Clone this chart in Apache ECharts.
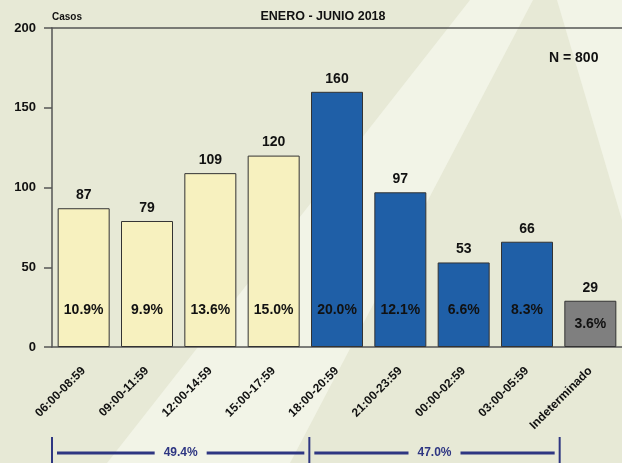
<!DOCTYPE html>
<html>
<head>
<meta charset="utf-8">
<script src="https://cdn.jsdelivr.net/npm/echarts@6/dist/echarts.min.js"></script>
<style>
  html, body { margin: 0; padding: 0; }
  #chart { width: 622px; height: 463px; }
</style>
</head>
<body>
<div id="chart"></div>
<script>
  // datos enero - junio 2018
  var categorias = ['06:00-08:59', '09:00-11:59', '12:00-14:59', '15:00-17:59',
    '18:00-20:59', '21:00-23:59', '00:00-02:59', '03:00-05:59', 'Indeterminado'];
  var casos = [87, 79, 109, 120, 160, 97, 53, 66, 29];
  var porcentajes = [10.9, 9.9, 13.6, 15.0, 20.0, 12.1, 6.6, 8.3, 3.6];
  var grupos = ['dia', 'dia', 'dia', 'dia', 'noche', 'noche', 'noche', 'noche', 'ind'];
  var yTicks = [0, 50, 100, 150, 200];
  var resumen = ['49.4%', '47.0%'];

  var colores = { dia: '#f7f1bf', noche: '#1f5fa7', ind: '#7f7f7f' };
  var fuente = '"Liberation Sans", Arial, sans-serif';
  var navy = '#2e3682';

  var chart = echarts.init(document.getElementById('chart'));

  var barData = casos.map(function (v, i) {
    return { value: v, itemStyle: { color: colores[grupos[i]] } };
  });
  var pctData = casos.map(function (v, i) {
    return {
      value: v,
      label: { distance: grupos[i] === 'ind' ? 16 : 30 }
    };
  });

  chart.setOption({
    backgroundColor: '#e7e9d6',
    textStyle: { fontFamily: fuente },
    title: {
      text: 'ENERO - JUNIO 2018',
      left: 318, top: 5, textAlign: 'center',
      textStyle: { fontSize: 12.5, fontWeight: 'bold', color: '#111', fontFamily: fuente }
    },
    grid: { left: 52, right: 0, top: 28, bottom: 116 },
    xAxis: [{
      type: 'category',
      data: categorias,
      axisLine: { lineStyle: { color: '#555', width: 1.5 } },
      axisTick: { alignWithLabel: true, length: 8, lineStyle: { color: '#222' } },
      axisLabel: { rotate: 45, margin: 22, fontSize: 12, fontWeight: 'bold', color: '#111', fontFamily: fuente }
    }, {
      type: 'category',
      position: 'top',
      data: categorias,
      axisLine: { lineStyle: { color: '#555', width: 1.5 } },
      axisTick: { show: false },
      axisLabel: { show: false }
    }],
    yAxis: {
      type: 'value',
      min: yTicks[0], max: yTicks[yTicks.length - 1], interval: 50,
      name: 'Casos',
      nameLocation: 'end',
      nameGap: 6,
      nameTextStyle: { fontSize: 10, fontWeight: 'bold', color: '#111', align: 'left', padding: [0, 0, 0, 0] },
      axisLine: { show: true, lineStyle: { color: '#555', width: 1.5 } },
      axisTick: { show: true, length: 8, lineStyle: { color: '#555', width: 1.5 } },
      axisLabel: { margin: 16, fontSize: 13, fontWeight: 'bold', color: '#111', fontFamily: fuente },
      splitLine: { show: false }
    },
    series: [{
      type: 'bar',
      data: barData,
      barWidth: 52,
      z: 3,
      itemStyle: { borderColor: '#333', borderWidth: 1 },
      label: {
        show: true, position: 'top', distance: 6,
        fontSize: 14, fontWeight: 'bold', color: '#111', fontFamily: fuente
      }
    }, {
      type: 'bar',
      data: pctData,
      barWidth: 52,
      barGap: '-100%',
      z: 4,
      itemStyle: { color: 'rgba(0,0,0,0)' },
      label: {
        show: true, position: 'insideBottom',
        fontSize: 14, fontWeight: 'bold', color: '#111', fontFamily: fuente,
        formatter: function (p) { return porcentajes[p.dataIndex].toFixed(1) + '%'; }
      },
      tooltip: { show: false }
    }],
    graphic: [
      { type: 'polygon', z: -10, silent: true,
        shape: { points: [[470, 0], [533, 0], [290, 463], [107, 463]] },
        style: { fill: '#f2f4e7' } },
      { type: 'polygon', z: -10, silent: true,
        shape: { points: [[557, 0], [622, 0], [622, 220]] },
        style: { fill: '#f2f4e7' } },
      { type: 'text', left: 549, top: 51,
        style: { text: 'N = 800', font: 'bold 14px ' + fuente, fill: '#111' } }
    ]
  });

  // corchetes de resumen debajo del eje
  var p0 = chart.convertToPixel({ xAxisIndex: 0 }, categorias[0]);
  var p1 = chart.convertToPixel({ xAxisIndex: 0 }, categorias[1]);
  var bw = p1 - p0;
  var xa = p0 - bw / 2;
  var xb = chart.convertToPixel({ xAxisIndex: 0 }, categorias[4]) - bw / 2 + 4;
  var xc = chart.convertToPixel({ xAxisIndex: 0 }, categorias[8]) - bw / 2 + 1;
  var yTop = 437, yLine = 453, yBot = 463;

  function corchete(x1, x2, txt) {
    var mid = (x1 + x2) / 2;
    var gap = 26;
    var ls = { stroke: navy, lineWidth: 3 };
    return [
      { type: 'line', shape: { x1: x1 + 5, y1: yLine, x2: mid - gap, y2: yLine }, style: ls },
      { type: 'line', shape: { x1: mid + gap, y1: yLine, x2: x2 - 5, y2: yLine }, style: ls },
      { type: 'text', x: mid, y: yLine,
        style: { text: txt, font: 'bold 12px ' + fuente, fill: navy, align: 'center', verticalAlign: 'middle' } }
    ];
  }
  var vl = { stroke: navy, lineWidth: 2 };
  var extra = [
    { type: 'line', shape: { x1: xa, y1: yTop, x2: xa, y2: yBot }, style: vl },
    { type: 'line', shape: { x1: xb, y1: yTop, x2: xb, y2: yBot }, style: vl },
    { type: 'line', shape: { x1: xc, y1: yTop, x2: xc, y2: yBot }, style: vl }
  ].concat(corchete(xa, xb, resumen[0]), corchete(xb, xc, resumen[1]));

  var opt = chart.getOption();
  chart.setOption({ graphic: opt.graphic[0].elements.concat(extra) });
</script>
</body>
</html>
